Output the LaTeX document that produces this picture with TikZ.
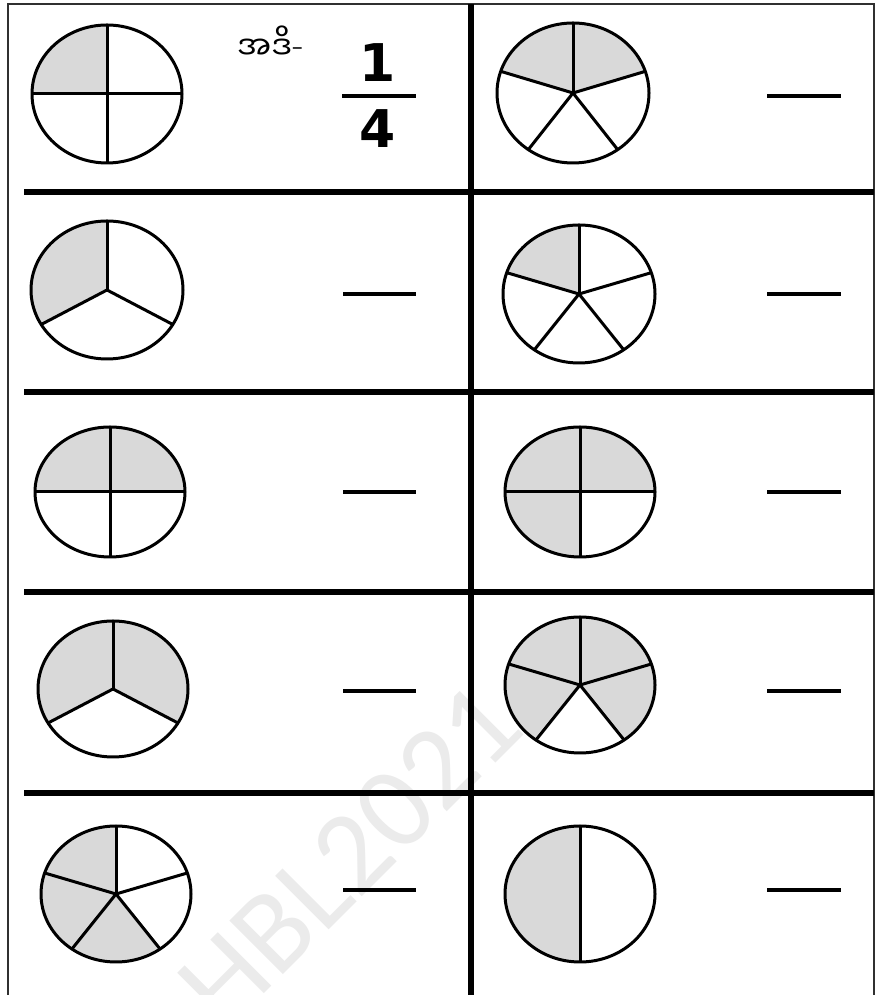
\documentclass[tikz,border=0pt]{standalone}
\usepackage{fontspec}
\newfontfamily\myafont[Script=Myanmar]{Noto Sans Myanmar UI}
\newfontfamily\numfont{DejaVu Sans}
\newfontfamily\wmfont{Carlito}
\definecolor{shadegray}{HTML}{D9D9D9}
\definecolor{framegray}{HTML}{303030}
\definecolor{wmgray}{HTML}{EBEBEB}
\tikzset{
  pieline/.style={line width=3pt, black, line join=round},
  gridline/.style={line width=5.5pt, black},
  frameline/.style={line width=1.6pt, framegray},
  blankline/.style={line width=4pt, black},
}
% #1 cx, #2 cy (image px, from top), #3 rx, #4 ry, #5 parts, #6 shaded sector list
\newcommand{\fracpie}[6]{%
  \begin{scope}[shift={(#1,{995-#2})}]
    \pgfmathsetmacro{\secang}{360/#5}
    \foreach \k in {#6} {
      \fill[shadegray] (0,0) -- ({90+\k*\secang}:#3pt and #4pt)
        arc[start angle={90+\k*\secang}, end angle={90+(\k+1)*\secang}, x radius=#3pt, y radius=#4pt] -- cycle;
    }
    \foreach \k in {1,...,#5} {
      \draw[pieline] (0,0) -- ({90+\k*\secang}:#3pt and #4pt);
    }
    \draw[pieline] (0,0) ellipse[x radius=#3pt, y radius=#4pt];
  \end{scope}}
\begin{document}
\begin{tikzpicture}[x=1pt,y=1pt]
\fill[white] (0,0) rectangle (881,995);
\useasboundingbox (0,0) rectangle (881,995);
% watermark
\node[rotate=45, text=wmgray, font=\wmfont\fontsize{118}{124}\selectfont] (wm) at (350,{995-855}) {HBL2021};
% frame
\draw[frameline] (8,0) -- (8,991) -- (874,991) -- (874,0);
% grid
\foreach \yy in {192,392,592,793} {
  \draw[gridline] (24,{995-\yy}) -- (874,{995-\yy});
}
\draw[gridline] (471,991) -- (471,0);
% pies
\fracpie{107}{94}{75}{69}{4}{0}
\fracpie{573}{93}{76}{70}{5}{0,4}
\fracpie{107}{290}{76}{69}{3}{0}
\fracpie{579}{294}{76}{69}{5}{0}
\fracpie{110}{492}{75}{65}{4}{0,3}
\fracpie{580}{492}{75}{65}{4}{0,1,3}
\fracpie{113}{689}{75}{68}{3}{0,2}
\fracpie{580}{685}{75}{68}{5}{0,1,3,4}
\fracpie{116}{894}{75}{68}{5}{0,1,2}
\fracpie{580}{894}{75}{68}{2}{0}
% example text
\node[inner sep=0pt] (ex) at (270,{995-43}) {{\myafont\fontsize{32}{36}\selectfont အဒိ}\raisebox{5pt}{\numfont\fontsize{22}{26}\selectfont –}};
\node[font=\numfont\bfseries\fontsize{52}{60}\selectfont, inner sep=0pt] (num) at (378,{995-63}) {1};
\node[font=\numfont\bfseries\fontsize{52}{60}\selectfont, inner sep=0pt] (den) at (378,{995-129}) {4};
\draw[blankline] (342,{995-96}) -- (416,{995-96});
% answer blanks
\draw[blankline] (767,{995-96}) -- (841,{995-96});
\foreach \yy in {294,492,691,890} {
  \draw[blankline] (343,{995-\yy}) -- (416,{995-\yy});
  \draw[blankline] (767,{995-\yy}) -- (841,{995-\yy});
}
\end{tikzpicture}
\end{document}
